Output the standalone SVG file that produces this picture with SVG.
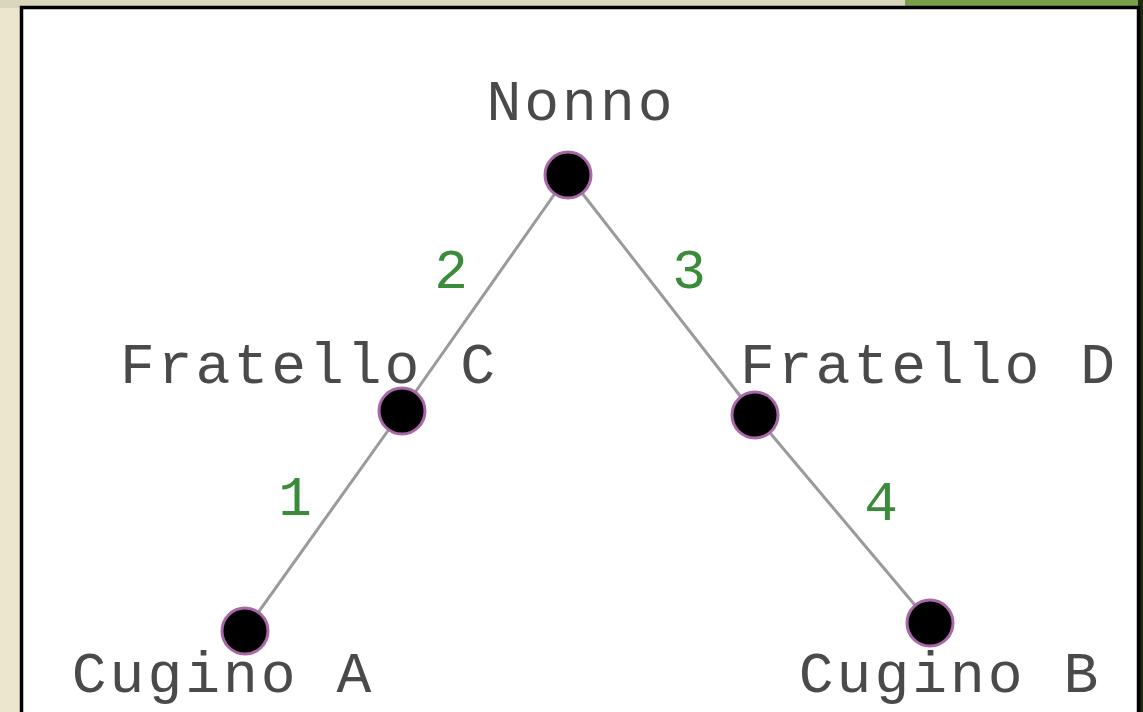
<svg xmlns="http://www.w3.org/2000/svg" width="1143" height="712" viewBox="0 0 1143 712">
<style>
.lbl{font-family:"Liberation Mono","Courier New",monospace;font-size:58px;letter-spacing:3px;fill:#4a4a4a;text-anchor:middle}
.num{font-family:"Liberation Mono","Courier New",monospace;font-size:56px;fill:#3a8c3a;text-anchor:middle}
.dot{fill:#000;stroke:#a868a8;stroke-width:3}
.edge{stroke:#9a9a9a;stroke-width:3;fill:none}
</style>
<rect x="0" y="0" width="1143" height="712" fill="#ebe6cc"/>
<rect x="0" y="0" width="905" height="8" fill="#d8d6bc"/>
<rect x="905" y="0" width="238" height="8" fill="#78a048"/>
<rect x="1138" y="0" width="5" height="712" fill="#1c2a10"/>
<rect x="21.5" y="7.5" width="1117" height="720" fill="#fff" stroke="#000" stroke-width="3.5"/>
<g id="connectors">
<line class="edge" x1="568" y1="175" x2="402" y2="411"/>
<line class="edge" x1="402" y1="411" x2="245" y2="631"/>
<line class="edge" x1="568" y1="175" x2="755" y2="415"/>
<line class="edge" x1="755" y1="415" x2="930" y2="623"/>
<text class="num" x="451" y="288">2</text>
<text class="num" x="689" y="288">3</text>
<text class="num" x="295" y="515">1</text>
<text class="num" x="881" y="520">4</text>
</g>
<g id="nonno"><circle class="dot" cx="568" cy="175" r="23"/><text class="lbl" x="581" y="120">Nonno</text></g>
<g id="fratello-c"><circle class="dot" cx="402" cy="411" r="23"/><text class="lbl" x="309" y="383">Fratello C</text></g>
<g id="fratello-d"><circle class="dot" cx="755" cy="415" r="23"/><text class="lbl" x="929" y="383">Fratello D</text></g>
<g id="cugino-a"><circle class="dot" cx="245" cy="631" r="23"/><text class="lbl" x="223" y="692">Cugino A</text></g>
<g id="cugino-b"><circle class="dot" cx="930" cy="623" r="23"/><text class="lbl" x="950" y="692">Cugino B</text></g>
</svg>
